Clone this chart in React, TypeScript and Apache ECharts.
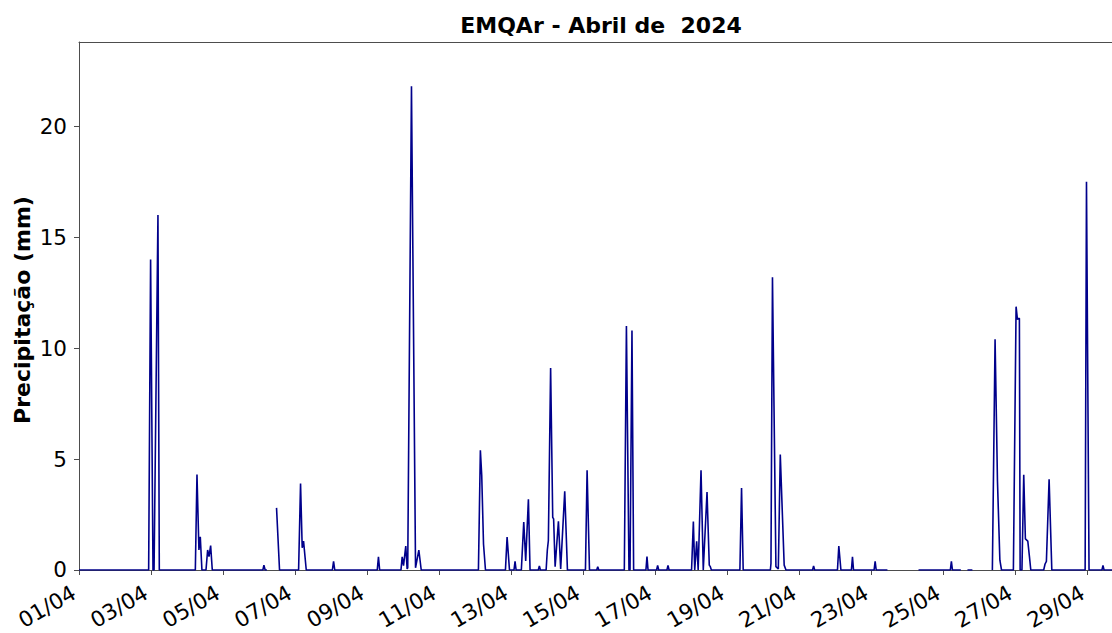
import { useEffect, useRef } from 'react';
import * as echarts from 'echarts';

const titleText = 'EMQAr - Abril de  2024';
const yAxisTitle = 'Precipitação (mm)';
const xTickLabels = ['01/04', '03/04', '05/04', '07/04', '09/04', '11/04', '13/04', '15/04',
  '17/04', '19/04', '21/04', '23/04', '25/04', '27/04', '29/04'];
const yTickValues = [0, 5, 10, 15, 20];
const yMax = 23.8;
const xStart = '01 00:00';
// visible part of the axis (the plot continues past the right edge of the picture)
const xVisibleEnd = '29 16:12';

type Obs = [string, number | null];

const days01to07: Obs[] = [
  ['01 00:00', 0],
  ['02 22:24', 0], ['02 23:42', 14.0], ['03 01:18', 0], ['03 02:00', 0], ['03 04:36', 16.0], ['03 05:30', 0],
  ['04 05:30', 0], ['04 06:36', 4.3], ['04 07:54', 0.9], ['04 08:48', 1.5], ['04 09:54', 0],
  ['04 12:36', 0], ['04 13:42', 0.9], ['04 14:36', 0.6], ['04 15:42', 1.1], ['04 16:48', 0],
  ['06 02:30', 0], ['06 03:12', 0.22], ['06 04:00', 0], ['06 05:12', 0], ['06 08:00', null],
  ['06 11:36', 2.8], ['06 13:36', 0],
  ['07 02:18', 0], ['07 03:36', 3.9], ['07 04:42', 1.0], ['07 05:36', 1.3], ['07 07:24', 0],
];

const days08to14: Obs[] = [
  ['08 00:48', 0], ['08 01:36', 0.39], ['08 02:24', 0],
  ['09 06:42', 0], ['09 07:30', 0.59], ['09 08:18', 0],
  ['09 22:30', 0], ['09 23:18', 0.59], ['10 00:12', 0.2], ['10 01:42', 1.08], ['10 02:36', 0.05],
  ['10 03:00', 0.1], ['10 05:30', 21.8], ['10 08:12', 0.1], ['10 10:24', 0.9], ['10 12:00', 0],
  ['12 02:06', 0], ['12 03:24', 5.4], ['12 04:18', 4.27], ['12 05:30', 1.16], ['12 06:48', 0],
  ['12 20:06', 0], ['12 21:12', 1.48], ['12 22:48', 0],
  ['13 01:48', 0], ['13 02:30', 0.39], ['13 03:12', 0],
  ['13 06:42', 0], ['13 08:18', 2.16], ['13 09:36', 0.41], ['13 11:24', 3.19], ['13 12:30', 0],
  ['13 18:00', 0], ['13 18:42', 0.18], ['13 19:24', 0],
  ['13 23:12', 0], ['14 00:00', 0.89], ['14 00:42', 1.33], ['14 02:12', 9.1], ['14 03:36', 2.37],
  ['14 04:12', 2.3], ['14 05:12', 0.15], ['14 07:24', 2.2], ['14 08:54', 0.05], ['14 11:36', 3.55], ['14 13:24', 0],
];

const days15to21: Obs[] = [
  ['15 01:24', 0], ['15 02:30', 4.49], ['15 04:06', 0],
  ['15 08:54', 0], ['15 09:36', 0.15], ['15 10:18', 0],
  ['16 03:18', 0], ['16 04:42', 11.0], ['16 06:24', 0], ['16 07:06', 0], ['16 08:24', 10.8], ['16 09:30', 0],
  ['16 17:42', 0], ['16 18:24', 0.6], ['16 19:06', 0],
  ['17 00:48', 0], ['17 01:30', 0.2], ['17 02:12', 0],
  ['17 07:42', 0], ['17 08:24', 0.2], ['17 09:06', 0],
  ['18 00:06', 0], ['18 01:18', 2.19], ['18 02:12', 0], ['18 03:30', 1.29], ['18 04:30', 0],
  ['18 06:24', 4.5], ['18 07:54', 0], ['18 10:24', 3.51], ['18 11:54', 0.22], ['18 12:36', 0.15], ['18 13:18', 0],
  ['19 08:18', 0], ['19 09:24', 3.7], ['19 10:30', 0],
  ['20 04:36', 0], ['20 05:00', 0.3], ['20 06:00', 13.2], ['20 08:18', 0.15], ['20 09:54', 0.05],
  ['20 11:12', 5.2], ['20 13:48', 0.22], ['20 15:00', 0],
  ['21 08:42', 0], ['21 09:24', 0.18], ['21 10:06', 0],
];

const days22to29: Obs[] = [
  ['22 01:18', 0], ['22 02:12', 1.08], ['22 03:36', 0],
  ['22 10:36', 0], ['22 11:18', 0.59], ['22 12:00', 0],
  ['23 01:42', 0], ['23 02:24', 0.39], ['23 03:06', 0],
  ['23 10:36', 0], ['23 12:00', null], ['24 07:18', 0],
  ['25 04:30', 0], ['25 05:12', 0.39], ['25 05:54', 0],
  ['25 11:30', 0], ['25 13:00', null], ['25 15:54', 0], ['25 19:12', 0], ['26 00:00', null],
  ['26 08:30', 0], ['26 10:18', 10.4], ['26 11:54', 4.0], ['26 13:30', 0.44], ['26 14:36', 0],
  ['26 22:30', 0], ['27 00:18', 11.87], ['27 01:12', 11.3], ['27 02:30', 11.35], ['27 03:00', 0],
  ['27 04:12', 0], ['27 05:24', 4.29], ['27 06:30', 1.4], ['27 08:06', 1.3], ['27 09:12', 0.6], ['27 10:06', 0],
  ['27 18:42', 0], ['27 19:36', 0.27], ['27 20:30', 0.39], ['27 22:18', 4.09], ['28 00:06', 0],
  ['28 22:18', 0], ['28 23:12', 17.5], ['29 00:54', 0],
  ['29 09:30', 0], ['29 10:12', 0.2], ['29 10:54', 0],
  ['29 23:00', 0],
];

// hours since 01/04 00:00
function toHours(t: string): number {
  const [d, hm] = t.split(' ');
  const [h, m] = hm.split(':');
  return (Number(d) - 1) * 24 + Number(h) + Number(m) / 60;
}

const FONT = '"DejaVu Sans", "Liberation Sans", sans-serif';

export default function App() {
  const ref = useRef<HTMLDivElement>(null);

  useEffect(() => {
    document.body.style.margin = '0';
    if (!ref.current) return;
    const chart = echarts.init(ref.current, null, { renderer: 'svg' });

    const all = [...days01to07, ...days08to14, ...days15to21, ...days22to29];
    const seriesData = all.map(([t, v]) => [toHours(t), v]);
    const tickHours = xTickLabels.map((l) => (Number(l.slice(0, 2)) - 1) * 24);
    const labelFor = (v: number) => {
      const i = tickHours.indexOf(Math.round(v));
      return i >= 0 ? xTickLabels[i] : '';
    };

    const axisColor = '#4d4d4d';
    const xMin = toHours(xStart);
    const xMax = toHours(xVisibleEnd);

    chart.setOption({
      animation: false,
      backgroundColor: '#ffffff',
      grid: {
        left: 79,
        right: 0,
        top: 42,
        bottom: 56,
        show: false,
      },
      xAxis: [
        {
          type: 'value',
          position: 'bottom',
          min: xMin,
          max: xMax,
          splitLine: { show: false },
          axisLine: { show: true, lineStyle: { color: axisColor, width: 1 } },
          axisTick: {
            show: true,
            length: 5,
            lineStyle: { color: axisColor, width: 1 },
            customValues: tickHours,
          },
          axisLabel: {
            customValues: tickHours,
            formatter: (v: number) => labelFor(v),
            rotate: 30,
            margin: 18,
            padding: [0, 6, 0, 0],
            color: '#000',
            fontFamily: FONT,
            fontSize: 21.5,
          },
        },
        {
          type: 'value',
          position: 'top',
          min: xMin,
          max: xMax,
          splitLine: { show: false },
          axisLine: { show: true, onZero: false, lineStyle: { color: axisColor, width: 1 } },
          axisTick: { show: false },
          axisLabel: { show: false },
        },
      ],
      yAxis: {
        type: 'value',
        min: 0,
        max: yMax,
        splitLine: { show: false },
        axisLine: { show: true, lineStyle: { color: axisColor, width: 1 } },
        axisTick: {
          show: true,
          length: 5,
          lineStyle: { color: axisColor, width: 1 },
          customValues: yTickValues,
        },
        axisLabel: {
          customValues: yTickValues,
          margin: 12,
          color: '#000',
          fontFamily: FONT,
          fontSize: 21.5,
        },
      },
      graphic: [
        {
          type: 'text',
          x: 601,
          y: 25,
          style: {
            text: titleText,
            fill: '#000',
            fontFamily: FONT,
            fontWeight: 'bold',
            fontSize: 22,
            textAlign: 'center',
            textVerticalAlign: 'middle',
          },
        },
        {
          type: 'text',
          x: 22,
          y: 310,
          rotation: Math.PI / 2,
          style: {
            text: yAxisTitle,
            fill: '#000',
            fontFamily: FONT,
            fontWeight: 'bold',
            fontSize: 22,
            textAlign: 'center',
            textVerticalAlign: 'middle',
          },
        },
      ],
      series: [
        {
          type: 'line',
          xAxisIndex: 0,
          data: seriesData,
          showSymbol: false,
          connectNulls: false,
          clip: true,
          lineStyle: { color: '#00008b', width: 1.6 },
          itemStyle: { color: '#00008b' },
        },
      ],
    });

    return () => chart.dispose();
  }, []);

  return <div ref={ref} style={{ position: 'fixed', left: 0, top: 0, width: 1112, height: 633 }} />;
}
